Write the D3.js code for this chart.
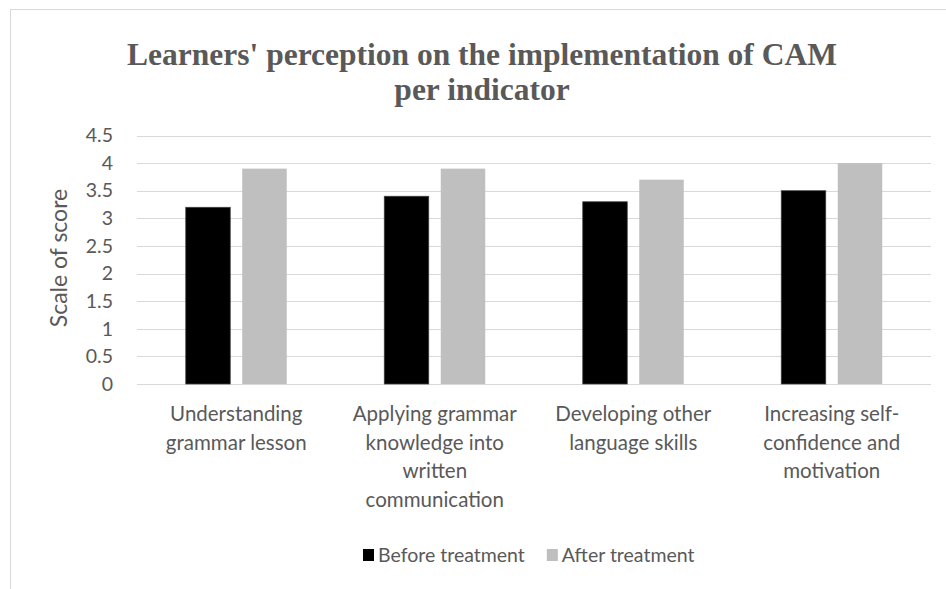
<!DOCTYPE html>
<html><head><meta charset="utf-8">
<script src="https://cdn.jsdelivr.net/npm/d3@7"></script>
<style>
html,body{margin:0;padding:0;background:#fff;}
svg{display:block;}
</style>
</head><body>
<svg id="chart" width="946" height="589"></svg>
<script>
const categories = ["Understanding grammar lesson","Applying grammar knowledge into written communication","Developing other language skills","Increasing self-confidence and motivation"];
const seriesNames = ["Before treatment","After treatment"];
const beforeValues = [3.2, 3.4, 3.3, 3.5];
const afterValues = [3.9, 3.9, 3.7, 4.0];
const yTicks = [0,0.5,1,1.5,2,2.5,3,3.5,4,4.5];
const titleLines = ["Learners' perception on the implementation of CAM","per indicator"];
const yAxisTitle = "Scale of score";
const colors = ["#000000","#bfbfbf"];

const font = "Lato, 'Open Sans', sans-serif";
const svg = d3.select("#chart");

// chart border
svg.append("rect").attr("x",10.5).attr("y",9.5).attr("width",960).attr("height",620)
  .attr("fill","none").attr("stroke","#d9d9d9").attr("stroke-width",1);

const x = d3.scaleBand().domain(categories).range([137,931]).paddingInner(0).paddingOuter(0);
const y = d3.scaleLinear().domain([0,4.5]).range([384,135.5]);
const groupW = 101;
const x1 = d3.scaleBand().domain(seriesNames).range([0,groupW]).paddingInner(0.2124).paddingOuter(0);

// gridlines
svg.append("g").selectAll("line").data(yTicks).join("line")
  .attr("x1",137).attr("x2",931)
  .attr("y1",d=>Math.round(y(d))+0.5).attr("y2",d=>Math.round(y(d))+0.5)
  .attr("stroke","#d9d9d9").attr("stroke-width",1.2);

// y axis labels
const yAxis = d3.axisLeft(y).tickValues(yTicks).tickSize(0).tickPadding(0).tickFormat(d3.format("~g"));
const yg = svg.append("g").attr("transform","translate(113,0)").call(yAxis);
yg.select(".domain").remove();
yg.selectAll("text").attr("font-family",font).attr("font-size",19.5).attr("fill","#595959");

// bars
const data = categories.map((c,i)=>({cat:c, vals:[beforeValues[i], afterValues[i]]}));
const groups = svg.append("g").selectAll("g").data(data).join("g")
  .attr("transform",d=>`translate(${x(d.cat)+x.bandwidth()/2-groupW/2},0)`);
groups.selectAll("rect").data(d=>d.vals.map((v,j)=>({s:seriesNames[j], v:v, j:j}))).join("rect")
  .attr("x",d=>x1(d.s)).attr("width",x1.bandwidth())
  .attr("y",d=>y(d.v)).attr("height",d=>y(0)-y(d.v))
  .attr("fill",d=>colors[d.j])
  .attr("stroke",d=>d.j===0?"#404040":"none").attr("stroke-width",0.75);

// category labels (wrap)
function wrapTokens(text){
  return text.match(/[^\s-]+-?/g);
}
const catFS = 20.5;
const maxW = 175;
const catG = svg.append("g");
categories.forEach(c=>{
  const cx = x(c)+x.bandwidth()/2;
  const t = catG.append("text").attr("font-family",font).attr("font-size",catFS).attr("fill","#595959").attr("text-anchor","middle");
  const toks = wrapTokens(c);
  let lines = [];
  let cur = "";
  const meas = svg.append("text").attr("font-family",font).attr("font-size",catFS);
  toks.forEach(tok=>{
    const cand = cur==="" ? tok : (cur.endsWith("-") ? cur+tok : cur+" "+tok);
    meas.text(cand);
    if (cur!=="" && meas.node().getComputedTextLength()>maxW){ lines.push(cur); cur = tok; }
    else cur = cand;
  });
  if(cur) lines.push(cur);
  meas.remove();
  lines.forEach((ln,k)=>{
    t.append("tspan").attr("x",cx).attr("y",421+k*28.5).text(ln);
  });
});

// y axis title
svg.append("text").attr("transform","translate(67,258) rotate(-90)")
  .attr("text-anchor","middle").attr("font-family",font).attr("font-size",23).attr("fill","#595959").text(yAxisTitle);

// title
svg.append("g").selectAll("text").data(titleLines).join("text")
  .attr("x",482).attr("y",(d,i)=>65+i*35)
  .attr("text-anchor","middle").attr("font-family","'Liberation Serif','Times New Roman',serif")
  .attr("font-weight","bold").attr("font-size",31.5).attr("fill","#595959").text(d=>d);

// legend
const legend = svg.append("g");
let lx = 363;
seriesNames.forEach((s,i)=>{
  legend.append("rect").attr("x",lx).attr("y",549).attr("width",11).attr("height",12).attr("fill",colors[i]);
  const tt = legend.append("text").attr("x",lx+15).attr("y",562).attr("font-family",font).attr("font-size",19.5).attr("fill","#595959").text(s);
  lx = lx + 15 + tt.node().getComputedTextLength() + 22;
});
</script>
</body></html>
